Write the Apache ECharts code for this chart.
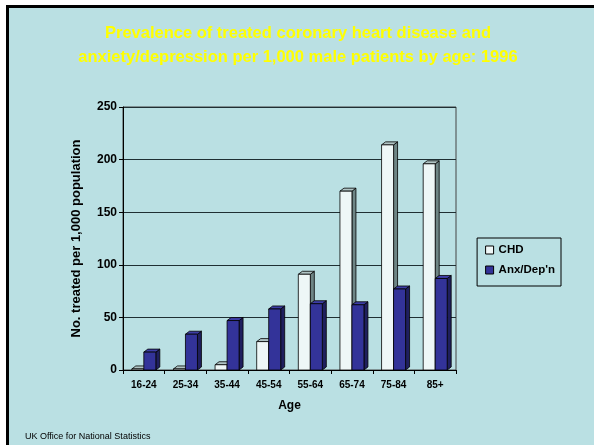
<!DOCTYPE html>
<html>
<head>
<meta charset="utf-8">
<script src="https://cdn.jsdelivr.net/npm/echarts@6/dist/echarts.min.js"></script>
<style>
  html, body { margin: 0; padding: 0; background: #ffffff; }
  #chart { width: 594px; height: 445px; }
</style>
</head>
<body>
<div id="chart"></div>
<script>
const AGE_GROUPS = ["16-24", "25-34", "35-44", "45-54", "55-64", "65-74", "75-84", "85+"];
const CHD_VALUES = [1, 1, 5, 27, 91, 170, 214, 196];
const ANX_VALUES = [17, 34, 47, 58, 63, 62, 77, 87];

const FONT = "'Liberation Sans', Arial, sans-serif";
const BAR_WIDTH = 12;
const DEPTH_X = 4;
const DEPTH_Y = 3;

function makeBarRenderer(offsetIndex, colors) {
  return function (params, api) {
    const idx = api.value(0);
    const val = api.value(1);
    const top = api.coord([idx, val]);
    const base = api.coord([idx, 0]);
    const x0 = top[0] - BAR_WIDTH + offsetIndex * BAR_WIDTH;
    const x1 = x0 + BAR_WIDTH;
    const y0 = top[1];
    const y1 = base[1];
    const line = { stroke: "#000", lineWidth: 0.8 };

    return {
      type: "group",
      children: [
        {
          type: "polygon",
          shape: { points: [[x1, y1], [x1 + DEPTH_X, y1 - DEPTH_Y], [x1 + DEPTH_X, y0 - DEPTH_Y], [x1, y0]] },
          style: Object.assign({ fill: colors.side }, line),
        },
        {
          type: "polygon",
          shape: { points: [[x0, y0], [x0 + DEPTH_X, y0 - DEPTH_Y], [x1 + DEPTH_X, y0 - DEPTH_Y], [x1, y0]] },
          style: Object.assign({ fill: colors.top }, line),
        },
        {
          type: "rect",
          shape: { x: x0, y: y0, width: BAR_WIDTH, height: y1 - y0 },
          style: Object.assign({ fill: colors.front }, line),
        },
      ],
    };
  };
}

const chart = echarts.init(document.getElementById("chart"));

chart.setOption({
  animation: false,
  backgroundColor: "#ffffff",
  graphic: [
    {
      type: "rect",
      z: -10,
      shape: { x: 6, y: 5, width: 600, height: 450 },
      style: { fill: "#bae0e3" },
      silent: true,
    },
    {
      type: "rect",
      z: -9,
      shape: { x: 6, y: 5, width: 600, height: 3 },
      style: { fill: "#000" },
      silent: true,
    },
    {
      type: "rect",
      z: -9,
      shape: { x: 6, y: 5, width: 3, height: 450 },
      style: { fill: "#000" },
      silent: true,
    },
    {
      type: "text",
      style: {
        x: 298,
        y: 21,
        text: "Prevalence of treated coronary heart disease and\nanxiety/depression per 1,000 male patients by age: 1996",
        fill: "#ffff00",
        font: "bold 16.5px " + FONT,
        align: "center",
        lineHeight: 24,
      },
    },
    {
      type: "text",
      style: {
        x: 25,
        y: 432,
        text: "UK Office for National Statistics",
        fill: "#000",
        font: "9px " + FONT,
      },
    },
  ],
  grid: {
    left: 123,
    right: 138,
    top: 107,
    bottom: 75,
    show: true,
    borderColor: "#444",
    borderWidth: 1,
  },
  legend: {
    right: 33,
    top: 238,
    orient: "vertical",
    itemWidth: 8,
    itemHeight: 8,
    itemGap: 8,
    padding: [6, 6, 10, 8],
    borderColor: "#000",
    borderWidth: 1,
    textStyle: { fontFamily: FONT, fontWeight: "bold", fontSize: 11.5, color: "#000" },
    data: [
      { name: "CHD", icon: "rect", itemStyle: { color: "#eef7f7", borderColor: "#000", borderWidth: 1 } },
      { name: "Anx/Dep'n", icon: "rect", itemStyle: { color: "#333399", borderColor: "#000", borderWidth: 1 } },
    ],
  },
  xAxis: {
    type: "category",
    data: AGE_GROUPS,
    name: "Age",
    nameLocation: "middle",
    nameGap: 30,
    nameTextStyle: { fontFamily: FONT, fontWeight: "bold", fontSize: 12, color: "#000" },
    axisLine: { lineStyle: { color: "#000" } },
    axisTick: { show: true, length: 4, lineStyle: { color: "#000" } },
    axisLabel: { fontFamily: FONT, fontWeight: "bold", fontSize: 10, color: "#000", margin: 10 },
  },
  yAxis: {
    type: "value",
    min: 0,
    max: 250,
    interval: 50,
    name: "No. treated per 1,000 population",
    nameLocation: "middle",
    nameGap: 40,
    nameTextStyle: { fontFamily: FONT, fontWeight: "bold", fontSize: 13, color: "#000" },
    axisLine: { show: true, lineStyle: { color: "#000" } },
    axisTick: { show: true, length: 4, lineStyle: { color: "#000" } },
    axisLabel: { fontFamily: FONT, fontWeight: "bold", fontSize: 12, color: "#000", margin: 6 },
    splitLine: { lineStyle: { color: "#1f2f33", width: 1 } },
  },
  series: [
    {
      name: "CHD",
      type: "custom",
      itemStyle: { color: "#eef7f7" },
      renderItem: makeBarRenderer(0, { front: "#eef7f7", side: "#6e8585", top: "#b0c4c4" }),
      data: CHD_VALUES.map((v, i) => [i, v]),
    },
    {
      name: "Anx/Dep'n",
      type: "custom",
      itemStyle: { color: "#333399" },
      renderItem: makeBarRenderer(1, { front: "#333399", side: "#1f1f5e", top: "#3d3da6" }),
      data: ANX_VALUES.map((v, i) => [i, v]),
    },
  ],
});
</script>
</body>
</html>
